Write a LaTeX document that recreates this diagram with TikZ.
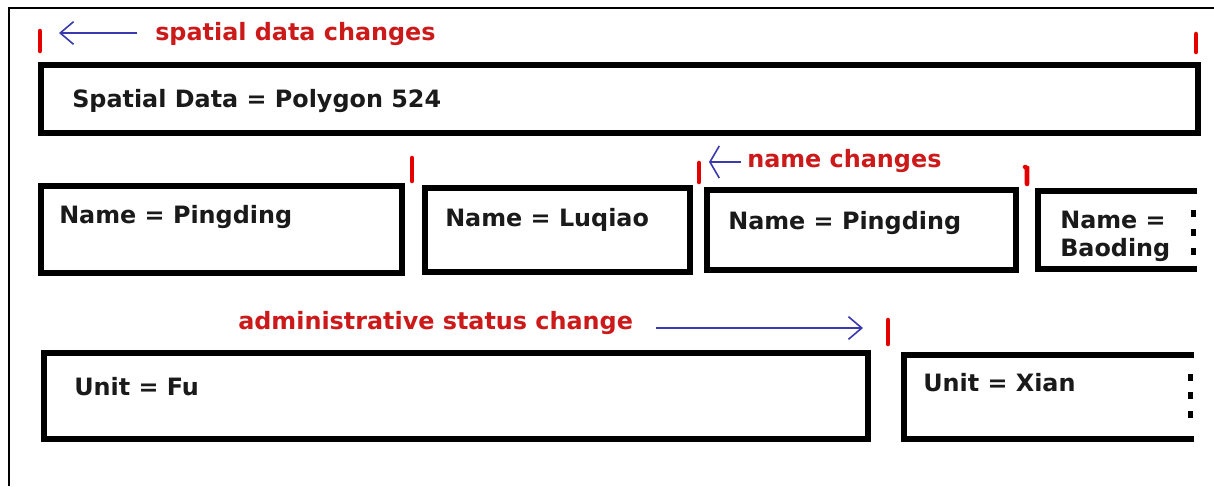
\documentclass[tikz,border=0pt]{standalone}
\usepackage{fontspec}
\setmainfont{DejaVu Sans}
\usetikzlibrary{arrows.meta}
\definecolor{tred}{HTML}{CC1A1A}
\definecolor{tblue}{HTML}{3A3AB0}
\definecolor{tblack}{HTML}{1A1A1A}
\begin{document}
\begin{tikzpicture}[x=0.75pt,y=-0.75pt,
  box/.style={draw=black,line width=4.4pt,line join=miter},
  tickmark/.style={draw=red!90!black,line width=3.4pt,line cap=round},
  barrow/.style={draw=tblue,line width=1.2pt,-{Straight Barb[length=10pt,width=17pt,line width=1.2pt]}},
  lbl/.style={anchor=base west,inner sep=0pt,text=tblack,font=\fontsize{17.9}{21}\selectfont\bfseries},
  rlbl/.style={lbl,text=tred},
  dotmark/.style={fill=black}]
\useasboundingbox (0,0) rectangle (1214,486);
\fill[white] (0,0) rectangle (1214,486);
% frame
\draw[line width=1.5pt] (9,486) -- (9,8) -- (1214,8);

% row 1
\draw[tickmark] (40,31) -- (40,51);
\coordinate (a1s) at (137,33);
\coordinate (a1e) at (59,33);
\draw[barrow] (a1s) -- (a1e);
\node[rlbl] (t1) at (155,40) {spatial data changes};
\draw[tickmark] (1196,34) -- (1196,52);
\draw[box] (41,65) rectangle (1198,133);
\node[lbl] (sd) at (72,107) {Spatial Data = Polygon 524};

% row 2
\draw[box] (41,186) rectangle (402,273);
\node[lbl] (n1) at (59,223) {Name = Pingding};
\draw[tickmark] (412,158) -- (412,181);
\draw[box] (425,188) rectangle (690,272);
\node[lbl] (n2) at (445,226) {Name = Luqiao};
\draw[tickmark] (699,163) -- (699,182);
\coordinate (a2s) at (741,162);
\coordinate (a2e) at (709,162);
\draw[draw=tblue,line width=1.2pt,-{Straight Barb[length=7pt,width=24pt,line width=1.2pt]}] (a2s) -- (a2e);
\node[rlbl] (t2) at (747,167) {name changes};
\draw[box] (707,190) rectangle (1016,270);
\node[lbl] (n3) at (728,229) {Name = Pingding};
\draw[tickmark] (1025,167) -- (1027,168) -- (1027,184);
\draw[box] (1197,191) -- (1038,191) -- (1038,269) -- (1197,269);
\node[lbl] (n4a) at (1060,228) {Name =};
\node[lbl] (n4b) at (1060,256) {Baoding};
\fill[dotmark] (1191,210) rectangle (1196,217);
\fill[dotmark] (1191,229) rectangle (1196,236);
\fill[dotmark] (1191,248) rectangle (1196,255);

% row 3
\node[rlbl] (t3) at (238,329) {administrative status change};
\coordinate (a3s) at (656,328);
\coordinate (a3e) at (863,328);
\draw[barrow] (a3s) -- (a3e);
\draw[tickmark] (888,320) -- (888,344);
\draw[box] (44,353) rectangle (868,439);
\node[lbl] (u1) at (74,395) {Unit = Fu};
\draw[box] (1194,355) -- (904,355) -- (904,439) -- (1194,439);
\node[lbl] (u2) at (923,391) {Unit = Xian};
\fill[dotmark] (1188,374) rectangle (1193,381);
\fill[dotmark] (1188,392) rectangle (1193,399);
\fill[dotmark] (1188,411) rectangle (1193,418);
\end{tikzpicture}
\end{document}
